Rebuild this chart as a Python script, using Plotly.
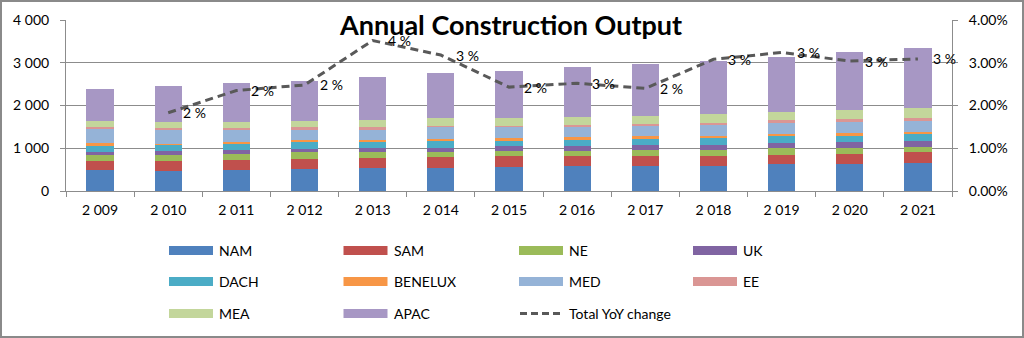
import plotly.graph_objects as go

# --- data -------------------------------------------------------------
years = ["2 009", "2 010", "2 011", "2 012", "2 013", "2 014", "2 015",
         "2 016", "2 017", "2 018", "2 019", "2 020", "2 021"]

nam = [490, 469, 492, 515, 531, 547, 555, 578, 578, 594, 625, 625, 648]
sam = [220, 242, 234, 235, 250, 242, 257, 234, 234, 226, 218, 234, 274]
ne = [125, 125, 133, 156, 141, 133, 133, 133, 141, 141, 157, 156, 117]
uk = [85, 100, 94, 70, 78, 93, 102, 109, 117, 117, 117, 125, 140]
dach = [130, 140, 140, 172, 156, 164, 132, 133, 140, 156, 164, 157, 157]
benelux = [70, 30, 63, 39, 39, 47, 63, 71, 71, 55, 55, 70, 54]
med = [320, 335, 289, 250, 242, 274, 265, 242, 250, 273, 257, 250, 258]
ee = [47, 40, 39, 55, 55, 31, 24, 39, 47, 39, 63, 70, 70]
mea = [150, 140, 141, 148, 164, 187, 187, 187, 187, 203, 203, 211, 227]
apac = [760, 830, 900, 940, 1018, 1035, 1096, 1167, 1206, 1244, 1283, 1346, 1407]

# total year-on-year change, percent (no value for the first year)
yoy_pct = [None, 1.83, 2.35, 2.48, 3.52, 3.18, 2.43, 2.52, 2.40, 3.08, 3.24, 3.04, 3.09]

series_names = ["NAM", "SAM", "NE", "UK", "DACH", "BENELUX", "MED", "EE", "MEA", "APAC"]
series_values = [nam, sam, ne, uk, dach, benelux, med, ee, mea, apac]
series_colors = ["#4F81BD", "#C0504D", "#9BBB59", "#8064A2", "#4BACC6",
                 "#F79646", "#95B3D7", "#DA9694", "#C3D69B", "#A797C4"]
line_name = "Total YoY change"
line_color = "#595959"

FONT = "Lato, 'Open Sans', sans-serif"
GRID = "#8C8C8C"

# --- plot area geometry (pixels) ---------------------------------------
W, H = 1024, 338
L, R, T, B = 66, 952, 20, 191


def px_x(px):
    return (px - L) / (R - L)


def px_y(py):
    return (B - py) / (B - T)


fig = go.Figure()

for name, vals, col in zip(series_names, series_values, series_colors):
    fig.add_trace(go.Bar(x=years, y=vals, name=name, marker_color=col,
                         marker_line_width=0, yaxis="y"))

yoy_frac = [None if v is None else v / 100 for v in yoy_pct]
fig.add_trace(go.Scatter(x=years, y=yoy_frac, name=line_name, mode="lines",
                         line=dict(color=line_color, width=3, dash="8px,5px"),
                         yaxis="y2", connectgaps=False))

annotations = []
# value labels to the right of each line point
for yr, v in zip(years, yoy_pct):
    if v is None:
        continue
    annotations.append(dict(x=yr, y=v / 100, xref="x", yref="y2",
                            text=f"{round(v):.0f} %", showarrow=False,
                            xanchor="left", yanchor="middle", xshift=13,
                            font=dict(family=FONT, size=14, color="#000000")))

# chart title
annotations.append(dict(x=px_x(511), y=px_y(24), xref="paper", yref="paper",
                        text="<b>Annual Construction Output</b>", showarrow=False,
                        xanchor="center", yanchor="middle",
                        font=dict(family=FONT, size=27, color="#000000")))

shapes = []
# legend: 3 rows x 4 columns of wide swatches
legend_items = [(n, c, "bar") for n, c in zip(series_names, series_colors)]
legend_items.append((line_name, line_color, "line"))
col_x = [169, 343.5, 519, 693]
row_y = [250.5, 281.5, 313.5]
for i, (name, col, kind) in enumerate(legend_items):
    cx = col_x[i % 4]
    cy = row_y[i // 4]
    if kind == "bar":
        shapes.append(dict(type="rect", xref="paper", yref="paper",
                           x0=px_x(cx), x1=px_x(cx + 44),
                           y0=px_y(cy - 4.5), y1=px_y(cy + 4.5),
                           fillcolor=col, line=dict(width=0), layer="above"))
    else:
        shapes.append(dict(type="line", xref="paper", yref="paper",
                           x0=px_x(cx + 1), x1=px_x(cx + 44),
                           y0=px_y(cy), y1=px_y(cy),
                           line=dict(color=col, width=3, dash="7px,4px"),
                           layer="above"))
    annotations.append(dict(x=px_x(cx + 48), y=px_y(cy), xref="paper", yref="paper",
                            text=name, showarrow=False, xanchor="left",
                            yanchor="middle",
                            font=dict(family=FONT, size=14, color="#000000")))

# outer chart border
shapes.append(dict(type="rect", xref="paper", yref="paper",
                   x0=px_x(1), x1=px_x(W - 1), y0=px_y(H - 1), y1=px_y(1),
                   line=dict(color="#8A8A8A", width=2), fillcolor="rgba(0,0,0,0)",
                   layer="above"))

fig.update_layout(
    width=W, height=H,
    margin=dict(l=L, r=W - R, t=T, b=H - B, pad=0),
    paper_bgcolor="#FFFFFF", plot_bgcolor="#FFFFFF",
    barmode="stack", bargap=0.6,
    showlegend=False,
    separators=". ",
    font=dict(family=FONT, size=14, color="#000000"),
    xaxis=dict(type="category", showline=True, linecolor=GRID, linewidth=1,
               ticks="outside", tickson="boundaries", ticklen=5, tickcolor=GRID,
               showgrid=False, tickfont=dict(size=14), range=[-0.5, 12.5],
               ticklabelstandoff=6),
    yaxis=dict(range=[0, 4000], dtick=1000, tickformat=",d", showgrid=True,
               gridcolor=GRID, gridwidth=1, showline=True, linecolor=GRID,
               ticks="outside", ticklen=5, tickcolor=GRID, zeroline=False,
               tickfont=dict(size=14), ticklabelstandoff=8),
    yaxis2=dict(range=[0, 0.04], dtick=0.01, tickformat=".2%", overlaying="y",
                side="right", showgrid=False, showline=True, linecolor=GRID,
                ticks="outside", ticklen=5, tickcolor=GRID, zeroline=False,
                tickfont=dict(size=14), ticklabelstandoff=8),
    annotations=annotations,
    shapes=shapes,
)

fig.write_html("out.html")
